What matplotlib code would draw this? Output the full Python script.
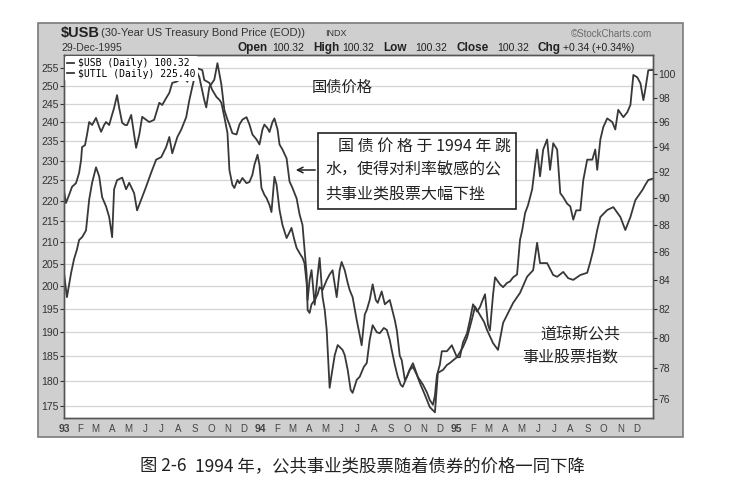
import matplotlib
matplotlib.use('Agg')
import matplotlib.pyplot as plt
import matplotlib.dates as mdates
from matplotlib.ticker import FixedLocator, NullLocator, NullFormatter
from matplotlib.patches import Rectangle
import numpy as np
import pandas as pd

# time = years after 1 Jan 1993
util_t = [0.000, 0.010, 0.026, 0.041, 0.061, 0.077, 0.087, 0.092, 0.107, 0.117,
          0.128, 0.143, 0.163, 0.179, 0.189, 0.204, 0.214, 0.230, 0.240, 0.255,
          0.270, 0.281, 0.296, 0.311, 0.321, 0.342, 0.357, 0.367, 0.383, 0.398,
          0.418, 0.434, 0.459, 0.474, 0.485, 0.500, 0.520, 0.536, 0.551, 0.571,
          0.587, 0.612, 0.628, 0.648, 0.673, 0.704, 0.714, 0.740, 0.755, 0.776,
          0.791, 0.801, 0.816, 0.832, 0.842, 0.857, 0.867, 0.883, 0.893, 0.908,
          0.929, 0.944, 0.959, 0.969, 0.985, 0.995, 1.005, 1.020, 1.031, 1.046,
          1.056, 1.071, 1.082, 1.097, 1.112, 1.133, 1.148, 1.158, 1.173, 1.184,
          1.199, 1.214, 1.224, 1.235, 1.240, 1.250, 1.260, 1.276, 1.291, 1.301,
          1.316, 1.327, 1.337, 1.352, 1.362, 1.378, 1.393, 1.403, 1.418, 1.429,
          1.444, 1.459, 1.469, 1.490, 1.505, 1.526, 1.541, 1.556, 1.571, 1.592,
          1.607, 1.628, 1.643, 1.658, 1.668, 1.684, 1.699, 1.714, 1.724, 1.745,
          1.760, 1.776, 1.796, 1.811, 1.837, 1.862, 1.878, 1.888, 1.903, 1.929,
          1.949, 1.964, 2.000, 2.031, 2.051, 2.066, 2.082, 2.092, 2.117, 2.138,
          2.153, 2.184, 2.209, 2.235, 2.260, 2.286, 2.321, 2.357, 2.388, 2.408,
          2.423, 2.459, 2.490, 2.510, 2.541, 2.566, 2.592, 2.628, 2.663, 2.679,
          2.694, 2.714, 2.730, 2.765, 2.796, 2.832, 2.857, 2.883, 2.908, 2.944,
          2.959, 2.974, 2.995]
util_v = [222.4, 219.4, 221.4, 223.4, 224.3, 226.9, 230.2, 233.5, 234.0, 236.7,
          240.1, 239.3, 241.2, 238.8, 237.5, 239.3, 240.1, 239.3, 241.2, 243.9,
          247.4, 243.9, 239.9, 239.3, 239.3, 242.0, 236.7, 233.3, 236.7, 241.5,
          240.7, 240.1, 240.7, 243.4, 245.3, 244.7, 246.6, 248.0, 250.8, 251.1,
          251.6, 252.2, 251.1, 254.4, 255.0, 254.4, 251.6, 250.8, 248.8, 246.9,
          246.1, 245.3, 241.5, 237.2, 227.6, 223.9, 223.1, 225.1, 224.3, 225.6,
          224.3, 224.6, 226.4, 228.9, 231.5, 228.9, 223.1, 221.4, 220.6, 218.9,
          217.2, 225.9, 223.9, 217.7, 214.1, 211.0, 212.4, 213.4, 210.5, 208.7,
          207.5, 206.4, 205.2, 200.7, 196.9, 201.4, 203.6, 195.9, 202.5, 206.4,
          197.6, 194.8, 190.5, 178.6, 181.2, 185.2, 187.3, 186.9, 186.3, 185.2,
          182.2, 178.2, 177.6, 180.2, 180.8, 182.8, 183.6, 188.4, 191.5, 190.0,
          189.8, 190.9, 190.5, 188.4, 186.3, 183.2, 180.8, 179.2, 178.8, 180.8,
          182.2, 182.8, 181.2, 179.6, 177.2, 174.8, 174.2, 173.8, 181.6, 182.2,
          183.2, 183.6, 184.8, 186.9, 188.8, 191.1, 193.7, 195.5, 193.7, 192.2,
          190.5, 187.7, 186.3, 192.0, 194.1, 196.3, 198.5, 202.1, 203.6, 209.9,
          205.2, 205.2, 202.5, 202.1, 203.2, 201.8, 201.4, 202.5, 203.0, 205.5,
          208.2, 212.9, 216.0, 217.7, 218.4, 216.0, 212.9, 216.0, 220.1, 222.6,
          223.9, 225.1, 225.4]

usb_t = [0.000, 0.015, 0.036, 0.051, 0.066, 0.077, 0.092, 0.112, 0.128, 0.143,
         0.163, 0.179, 0.194, 0.214, 0.230, 0.245, 0.255, 0.270, 0.296, 0.316,
         0.332, 0.357, 0.372, 0.398, 0.418, 0.444, 0.469, 0.495, 0.520, 0.536,
         0.551, 0.577, 0.597, 0.622, 0.638, 0.653, 0.673, 0.689, 0.714, 0.724,
         0.740, 0.765, 0.781, 0.801, 0.816, 0.832, 0.842, 0.857, 0.878, 0.893,
         0.908, 0.929, 0.944, 0.959, 0.980, 0.995, 1.010, 1.020, 1.036, 1.046,
         1.061, 1.071, 1.087, 1.097, 1.112, 1.133, 1.148, 1.163, 1.184, 1.199,
         1.214, 1.224, 1.235, 1.240, 1.250, 1.260, 1.276, 1.291, 1.301, 1.316,
         1.337, 1.352, 1.367, 1.388, 1.403, 1.413, 1.429, 1.444, 1.454, 1.469,
         1.490, 1.505, 1.515, 1.531, 1.541, 1.556, 1.571, 1.587, 1.597, 1.617,
         1.633, 1.658, 1.684, 1.694, 1.709, 1.719, 1.735, 1.745, 1.760, 1.776,
         1.801, 1.827, 1.847, 1.862, 1.878, 1.888, 1.898, 1.913, 1.923, 1.949,
         1.974, 2.000, 2.015, 2.031, 2.051, 2.066, 2.082, 2.102, 2.117, 2.128,
         2.143, 2.158, 2.168, 2.184, 2.194, 2.219, 2.235, 2.255, 2.270, 2.286,
         2.306, 2.321, 2.332, 2.347, 2.362, 2.383, 2.398, 2.408, 2.423, 2.439,
         2.459, 2.474, 2.490, 2.510, 2.526, 2.541, 2.561, 2.577, 2.592, 2.607,
         2.628, 2.643, 2.663, 2.689, 2.704, 2.714, 2.730, 2.745, 2.765, 2.791,
         2.806, 2.821, 2.847, 2.867, 2.883, 2.898, 2.918, 2.934, 2.949, 2.959,
         2.974, 2.995]
usb_v = [84.5, 82.8, 84.5, 85.5, 86.2, 86.9, 87.1, 87.6, 89.9, 91.2,
         92.4, 91.7, 90.1, 89.4, 88.6, 87.1, 90.7, 91.4, 91.6, 90.7,
         91.2, 90.4, 89.1, 90.1, 90.9, 92.0, 93.0, 93.2, 94.0, 94.8,
         93.5, 94.8, 95.4, 96.4, 97.8, 98.9, 100.3, 99.7, 97.8, 97.2,
         98.9, 99.5, 100.9, 99.1, 97.0, 96.2, 95.8, 95.1, 95.0, 95.8,
         96.2, 96.4, 95.8, 95.0, 94.6, 94.2, 95.4, 95.8, 95.5, 95.2,
         96.0, 96.3, 95.4, 94.2, 93.8, 93.1, 91.3, 90.8, 90.0, 88.8,
         88.0, 86.3, 84.4, 81.9, 81.7, 82.3, 82.6, 83.0, 83.5, 83.3,
         84.0, 84.4, 84.7, 82.8, 84.7, 85.3, 84.7, 83.8, 83.3, 82.8,
         81.2, 80.2, 79.5, 81.6, 81.9, 82.6, 83.7, 82.6, 82.4, 83.2,
         82.3, 82.6, 81.2, 80.5, 78.8, 78.5, 77.2, 77.4, 77.9, 78.3,
         77.4, 76.9, 76.4, 75.9, 75.6, 76.2, 77.5, 78.2, 79.1, 79.1,
         79.5, 78.7, 78.7, 79.7, 80.3, 81.2, 82.3, 81.8, 82.1, 82.5,
         83.0, 80.9, 80.5, 83.0, 84.2, 83.7, 83.5, 83.8, 83.9, 84.2,
         84.4, 86.9, 87.6, 88.9, 89.5, 90.7, 92.6, 93.8, 91.7, 93.8,
         94.6, 92.2, 94.3, 93.8, 90.4, 90.1, 89.6, 89.4, 88.4, 89.1,
         89.1, 91.4, 93.0, 93.0, 93.8, 92.2, 94.6, 95.6, 96.3, 96.0,
         95.4, 97.0, 96.4, 96.8, 97.4, 99.9, 99.7, 99.2, 97.8, 98.7,
         100.3, 100.32]

left_ticks = list(range(175, 256, 5))
right_ticks = list(range(76, 101, 2))
month_letters = ['J', 'F', 'M', 'A', 'M', 'J', 'J', 'A', 'S', 'O', 'N', 'D']
years = [1993, 1994, 1995]

W, H = 755, 496
cjk = ['Noto Sans CJK SC', 'DejaVu Sans']
plt.rcParams['font.family'] = ['Liberation Sans', 'DejaVu Sans']


def to_dates(ts):
    return pd.Timestamp('1993-01-01') + pd.to_timedelta(np.array(ts) * 365.25, unit='D')


def fx(px):
    return px / W


def fy(py):
    return 1 - py / H


fig = plt.figure(figsize=(W / 100, H / 100), dpi=100)
fig.patch.set_facecolor('white')

# grey StockCharts panel behind the plot
fig.patches.append(Rectangle((fx(38), fy(437)), fx(683) - fx(38), fy(23) - fy(437),
                             transform=fig.transFigure, facecolor='#cfcfcf',
                             edgecolor='#7a7a7a', lw=1.2, zorder=-5))

ax = fig.add_axes([fx(64), fy(418), fx(653) - fx(64), fy(55) - fy(418)])
ax2 = ax.twinx()

line_col = '#383838'
l_util, = ax.plot(to_dates(util_t), util_v, color=line_col, lw=1.3)
l_usb, = ax2.plot(to_dates(usb_t), usb_v, color=line_col, lw=1.3)

ax.set_yscale('log')
ax2.set_yscale('log')
ax.set_ylim(172.7, 258.7)
ax2.set_ylim(74.76, 101.6)
ax.set_xlim(pd.Timestamp('1993-01-01'), pd.Timestamp('1996-01-01'))

for a, ticks in ((ax, left_ticks), (ax2, right_ticks)):
    a.yaxis.set_major_locator(FixedLocator(ticks))
    a.yaxis.set_major_formatter(plt.FixedFormatter([str(t) for t in ticks]))
    a.yaxis.set_minor_locator(NullLocator())
    a.yaxis.set_minor_formatter(NullFormatter())
    a.tick_params(axis='y', labelsize=7.5, colors='#333333', length=3, pad=1, width=0.8)

# month letters under the plot, grid every quarter
month_starts = [pd.Timestamp(year=y, month=m, day=1) for y in years for m in range(1, 13)]
month_labels = []
for y in years:
    for m in range(12):
        month_labels.append(str(y)[2:] if m == 0 else month_letters[m])
ax.set_xticks(month_starts)
ax.set_xticklabels(month_labels)
ax.tick_params(axis='x', length=0, pad=4, labelsize=7, colors='#444444')
for lab in ax.get_xticklabels():
    if lab.get_text().isdigit():
        lab.set_fontweight('bold')
        lab.set_fontsize(7.5)
quarters = [pd.Timestamp(year=y, month=m, day=1) for y in years for m in (1, 4, 7, 10)][1:]
ax.set_xticks(quarters, minor=True)
ax.tick_params(axis='x', which='minor', length=0)
ax.grid(True, which='minor', axis='x', color='#d4d4d4', lw=0.9)
ax.grid(True, which='major', axis='y', color='#d4d4d4', lw=0.9)
ax.set_axisbelow(True)
ax.set_facecolor('white')
for a in (ax, ax2):
    for s in a.spines.values():
        s.set_color('#555555')
        s.set_linewidth(1.0)

leg = ax2.legend([l_usb, l_util], [r'\$USB (Daily) 100.32', r'\$UTIL (Daily) 225.40'],
                 loc='upper left', bbox_to_anchor=(0.0, 1.0), borderaxespad=0.15,
                 prop={'family': 'DejaVu Sans Mono', 'size': 7},
                 handlelength=0.7, handletextpad=0.4, labelspacing=0.05,
                 borderpad=0.2, frameon=True, facecolor='white', edgecolor='none',
                 framealpha=1)

# header lines
fig.text(fx(61), fy(33), r'\$USB', fontsize=10.5, fontweight='bold', color='#222222', va='center')
fig.text(fx(101), fy(33), '(30-Year US Treasury Bond Price (EOD))', fontsize=8, color='#333333', va='center')
fig.text(fx(325), fy(33), 'INDX', fontsize=6.5, color='#333333', va='center')
fig.text(fx(652), fy(34), '©StockCharts.com', fontsize=7, color='#6a6a6a', va='center', ha='right')
fig.text(fx(61), fy(48), '29-Dec-1995', fontsize=7.5, color='#333333', va='center')
header_parts = [(237, 'Open', True), (272, '100.32', False), (313, 'High', True),
                (342, '100.32', False), (383, 'Low', True), (415, '100.32', False),
                (457, 'Close', True), (497, '100.32', False), (537, 'Chg', True),
                (563, '+0.34 (+0.34%)', False)]
for px, txt, bold in header_parts:
    fig.text(fx(px), fy(48), txt, fontsize=8.5 if bold else 7.5,
             fontweight='bold' if bold else 'normal', color='#222222', va='center')

# annotations
fig.text(fx(342), fy(87), '国债价格', family=cjk, fontsize=11, ha='center', va='center', color='#222222')
fig.patches.append(Rectangle((fx(318), fy(209)), fx(516) - fx(318), fy(133) - fy(209),
                             transform=fig.transFigure, facecolor='white',
                             edgecolor='#222222', lw=1.2, zorder=2.5))
fig.text(fx(511), fy(146), '国 债 价 格 于 1994 年 跳', family=cjk, fontsize=11.5,
         ha='right', va='center', color='#222222')
fig.text(fx(325), fy(170), '水，使得对利率敏感的公', family=cjk, fontsize=11.5,
         ha='left', va='center', color='#222222')
fig.text(fx(325), fy(194), '共事业类股票大幅下挫', family=cjk, fontsize=11.5,
         ha='left', va='center', color='#222222')
ax2.annotate('', xy=(fx(293), fy(170)), xytext=(fx(318), fy(170)),
             xycoords='figure fraction', textcoords='figure fraction',
             arrowprops=dict(arrowstyle='->', color='#222222', lw=1.1))
fig.text(fx(580), fy(335), '道琼斯公共', family=cjk, fontsize=11.5, ha='center', va='center', color='#222222')
fig.text(fx(570), fy(357), '事业股票指数', family=cjk, fontsize=11.5, ha='center', va='center', color='#222222')

# caption
fig.text(fx(140), fy(466), '图 2-6', family=cjk, fontsize=12.5, va='center', color='#222222')
fig.text(fx(195), fy(466), '1994 年，公共事业类股票随着债券的价格一同下降', family=cjk,
         fontsize=12.5, va='center', color='#222222')

fig.savefig('out.png', dpi=100, facecolor='white')
